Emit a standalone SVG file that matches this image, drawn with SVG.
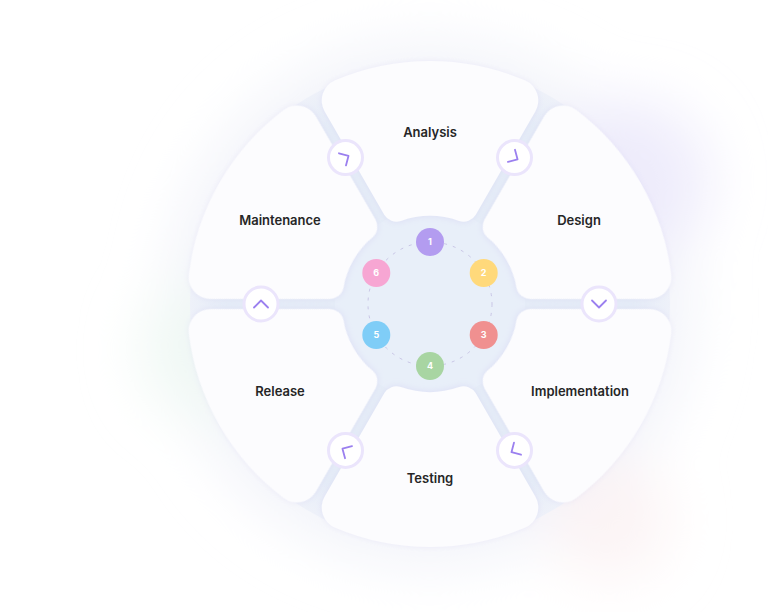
<svg xmlns="http://www.w3.org/2000/svg" width="768" height="612" viewBox="0 0 768 612">
<defs>
<style>
.seg{fill:#fcfcfe;}
.lbl{font-family:Inter,"Liberation Sans",sans-serif;font-weight:600;font-size:13px;fill:#262626;text-anchor:middle;}
.num{font-family:Inter,"Liberation Sans",sans-serif;font-weight:700;font-size:9px;fill:#ffffff;text-anchor:middle;}
.btn{fill:#ffffff;stroke:#ebe5fc;stroke-width:3;}
.chev{fill:none;stroke:#9b80ef;stroke-width:1.8;stroke-linecap:round;stroke-linejoin:round;}
</style>
<filter id="blur" x="-50%" y="-50%" width="200%" height="200%"><feGaussianBlur stdDeviation="28"/></filter>
<filter id="shadow" x="-20%" y="-20%" width="140%" height="140%"><feDropShadow dx="0" dy="1" stdDeviation="3" flood-color="#cfc9f0" flood-opacity="0.4"/></filter>
<path id="seg" d="M-94.88,-223.71 A243,243 0 0 1 94.88,-223.71 A22,22 0 0 1 105.34,-192.46 L45.78,-89.29 A14,14 0 0 1 29.03,-83.07 A88,88 0 0 0 -29.03,-83.07 A14,14 0 0 1 -45.78,-89.29 L-105.34,-192.46 A22,22 0 0 1 -94.88,-223.71 Z"/>
<path id="chev" d="M-7,-3.5 L0,3.5 L7,-3.5"/>
<radialGradient id="disk" cx="0.5" cy="0.5" r="0.5">
<stop offset="0.85" stop-color="#e5edf7"/>
<stop offset="1" stop-color="#eef1f9"/>
</radialGradient>
</defs>
<rect width="768" height="612" fill="#ffffff"/>
<g id="background" filter="url(#blur)">
<circle cx="430" cy="304" r="262" fill="#f3f4fa"/>
<circle cx="630" cy="180" r="80" fill="#ebe8fb" opacity="0.8"/>
<circle cx="210" cy="350" r="70" fill="#edf7f3" opacity="0.8"/>
<circle cx="610" cy="520" r="60" fill="#fbf1f3" opacity="0.8"/>
</g>
<circle cx="430" cy="304" r="240" fill="url(#disk)"/>
<circle cx="430" cy="304" r="95" fill="#e8eff9"/>
<g id="hub">
<circle cx="430" cy="304" r="62" fill="none" stroke="#c9c6e6" stroke-width="1" stroke-dasharray="3 6"/>
</g>
<g id="analysis"><use href="#seg" class="seg" filter="url(#shadow)" transform="translate(430,304)"/><text class="lbl" x="430" y="137">Analysis</text></g>
<g id="design"><use href="#seg" class="seg" filter="url(#shadow)" transform="translate(430,304) rotate(60)"/><text class="lbl" x="579" y="225">Design</text></g>
<g id="implementation"><use href="#seg" class="seg" filter="url(#shadow)" transform="translate(430,304) rotate(120)"/><text class="lbl" x="580" y="396">Implementation</text></g>
<g id="testing"><use href="#seg" class="seg" filter="url(#shadow)" transform="translate(430,304) rotate(180)"/><text class="lbl" x="430" y="483">Testing</text></g>
<g id="release"><use href="#seg" class="seg" filter="url(#shadow)" transform="translate(430,304) rotate(240)"/><text class="lbl" x="280" y="396">Release</text></g>
<g id="maintenance"><use href="#seg" class="seg" filter="url(#shadow)" transform="translate(430,304) rotate(300)"/><text class="lbl" x="280" y="225">Maintenance</text></g>
<g id="connectors">
<g transform="translate(599,304)"><circle class="btn" r="17"/><use href="#chev" class="chev"/></g>
<g transform="translate(514.5,450.4)"><circle class="btn" r="17"/><use href="#chev" class="chev" transform="rotate(60)"/></g>
<g transform="translate(345.5,450.4)"><circle class="btn" r="17"/><use href="#chev" class="chev" transform="rotate(120)"/></g>
<g transform="translate(261,304)"><circle class="btn" r="17"/><use href="#chev" class="chev" transform="rotate(180)"/></g>
<g transform="translate(345.5,157.6)"><circle class="btn" r="17"/><use href="#chev" class="chev" transform="rotate(240)"/></g>
<g transform="translate(514.5,157.6)"><circle class="btn" r="17"/><use href="#chev" class="chev" transform="rotate(300)"/></g>
</g>
<g id="step1"><circle cx="430" cy="242" r="14" fill="#b39cf0"/><text class="num" x="430" y="245.2">1</text></g>
<g id="step2"><circle cx="483.7" cy="273" r="14" fill="#ffd97b"/><text class="num" x="483.7" y="276.2">2</text></g>
<g id="step3"><circle cx="483.7" cy="335" r="14" fill="#f09090"/><text class="num" x="483.7" y="338.2">3</text></g>
<g id="step4"><circle cx="430" cy="366" r="14" fill="#a8d5a2"/><text class="num" x="430" y="369.2">4</text></g>
<g id="step5"><circle cx="376.3" cy="335" r="14" fill="#7fcdf7"/><text class="num" x="376.3" y="338.2">5</text></g>
<g id="step6"><circle cx="376.3" cy="273" r="14" fill="#f7a6d3"/><text class="num" x="376.3" y="276.2">6</text></g>
</svg>
